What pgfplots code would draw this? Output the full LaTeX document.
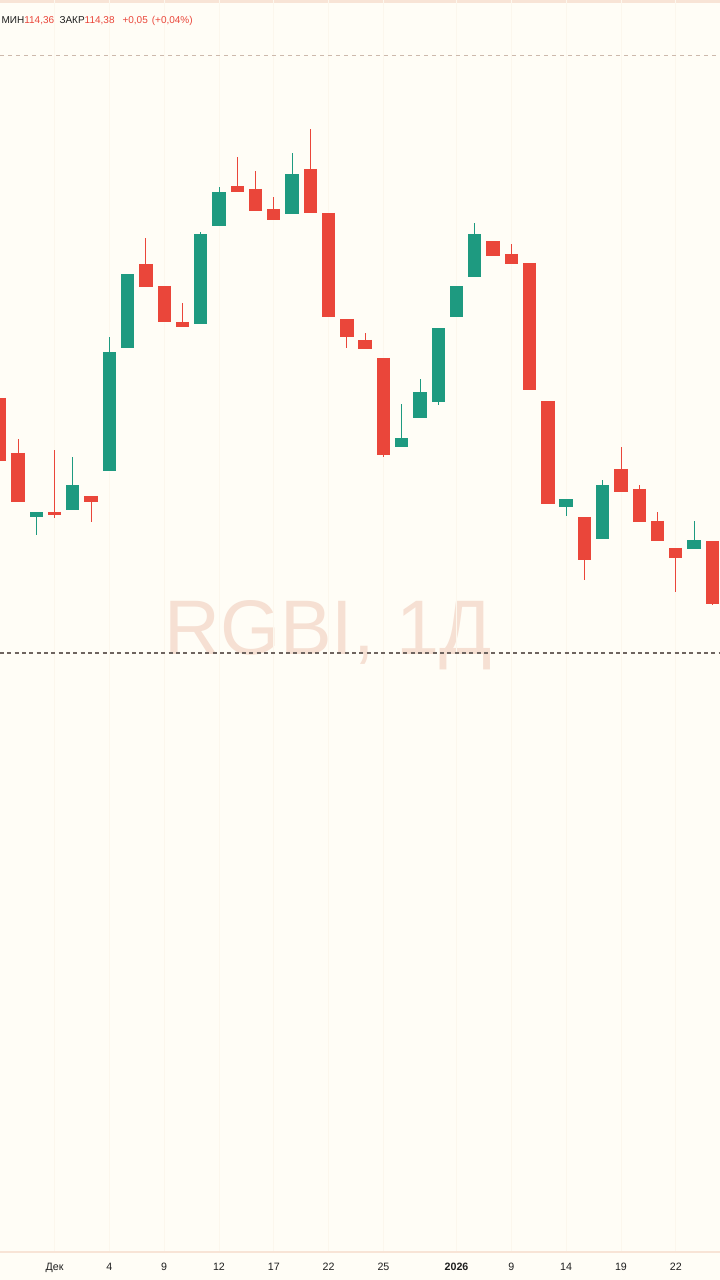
\documentclass[border=0pt]{standalone}
\usepackage{pgfplots}
\usepackage{pgfplotstable}
\pgfplotsset{compat=1.18}
\usepackage{fontspec}
\setmainfont{Liberation Sans}

\definecolor{bg}{RGB}{255,253,246}
\definecolor{up}{RGB}{30,154,128}
\definecolor{dn}{RGB}{234,70,58}
\definecolor{gridc}{RGB}{252,247,237}
\definecolor{sep}{RGB}{248,228,214}
\definecolor{wm}{RGB}{246,224,211}
\definecolor{txt}{RGB}{30,30,30}
\definecolor{dashA}{RGB}{205,185,172}
\definecolor{dashB}{RGB}{110,100,95}

% candle index, open, high, low, close
\pgfplotstableread{
x  o      h      l      c
3  116.12 116.22 115.76 116.22
5  116.26 117.32 116.26 116.76
7  117.04 119.72 117.04 119.42
8  119.50 120.98 119.50 120.98
12 119.98 121.82 119.98 121.78
13 121.94 122.72 121.94 122.62
17 122.18 123.40 122.18 122.98
23 117.52 118.38 117.52 117.70
24 118.10 118.88 118.10 118.62
25 118.42 119.90 118.36 119.90
26 120.12 120.74 120.12 120.74
27 120.92 122.00 120.92 121.78
32 116.32 116.48 116.14 116.48
34 115.68 116.86 115.68 116.76
39 115.48 116.04 115.48 115.66
}\upcandles

\pgfplotstableread{
x  o      h      l      c
1  118.50 118.56 117.20 117.24
2  117.40 117.68 116.42 116.42
4  116.22 117.46 116.10 116.16
6  116.54 116.54 116.02 116.42
9  121.18 121.70 120.72 120.72
10 120.74 120.74 120.02 120.02
11 120.02 120.40 119.92 119.92
14 122.74 123.32 122.62 122.62
15 122.68 123.04 122.24 122.24
16 122.28 122.52 122.06 122.06
18 123.08 123.88 122.20 122.20
19 122.20 122.20 120.12 120.12
20 120.08 120.08 119.50 119.72
21 119.66 119.80 119.48 119.48
22 119.30 119.30 117.32 117.36
28 121.64 121.64 121.34 121.34
29 121.38 121.58 121.18 121.18
30 121.20 121.20 118.66 118.66
31 118.44 118.44 116.38 116.38
33 116.12 116.12 114.86 115.26
35 117.08 117.52 116.62 116.62
36 116.68 116.76 116.02 116.02
37 116.04 116.22 115.64 115.64
38 115.50 115.50 114.62 115.30
40 115.64 115.64 114.36 114.38
}\dncandles

\begin{document}
\begin{tikzpicture}
\useasboundingbox (0,0) rectangle (540pt,960pt);
\fill[bg] (0,0) rectangle (540pt,960pt);
\fill[sep] (0,958pt) rectangle (540pt,960pt);
% watermark
\node[anchor=base west, inner sep=0pt, text=wm, font=\fontsize{58}{60}\selectfont]
  at (123pt,468.75pt) {RGBI, 1Д};
\begin{axis}[
  at={(0pt,21pt)}, anchor=south west,
  scale only axis, width=540pt, height=939pt,
  xmin=1.015, xmax=40.42, ymin=101.42, ymax=126.46,
  axis x line=bottom, axis y line=none,
  x axis line style={sep, line width=0.9pt, -},
  xtick={4,7,10,13,16,19,22,26,29,32,35,38},
  xticklabels={Дек,4,9,12,17,22,25,\textbf{2026},9,14,19,22},
  major tick length=0pt,
  xticklabel style={font=\fontsize{8}{9.5}\selectfont, text=txt, yshift=-5pt},
  ytick={102.5,104,...,125}, yticklabels={},
  xmajorgrids, ymajorgrids,
  grid style={gridc, line width=0.6pt},
  clip=true,
]
% price lines
\addplot[dashA, line width=0.7pt, dash pattern=on 3pt off 3pt, mark=none]
  coordinates {(1.015,125.36) (40.42,125.36)};
\addplot[dashB, line width=0.8pt, dash pattern=on 3pt off 2.5pt, mark=none]
  coordinates {(1.015,113.40) (40.42,113.40)};
% wicks
\addplot[up, line width=0.7pt, mark=none, quiver={u=0, v=\thisrow{h}-\thisrow{l}}]
  table[x=x, y=l] {\upcandles};
\addplot[dn, line width=0.7pt, mark=none, quiver={u=0, v=\thisrow{h}-\thisrow{l}}]
  table[x=x, y=l] {\dncandles};
% bodies
\addplot[up, line width=10pt, mark=none, quiver={u=0, v=\thisrow{c}-\thisrow{o}}]
  table[x=x, y=o] {\upcandles};
\addplot[dn, line width=10pt, mark=none, quiver={u=0, v=\thisrow{c}-\thisrow{o}}]
  table[x=x, y=o] {\dncandles};
\end{axis}
% header (values of the hovered bar)
\node[anchor=base west, inner sep=0pt, font=\fontsize{7.5}{9}\selectfont]
  at (1pt,942.5pt)
  {\textcolor{txt}{МИН}\textcolor{dn}{114,36}\hspace{4pt}\textcolor{txt}{ЗАКР}\textcolor{dn}{114,38\hspace{6pt}+0,05\hspace{3pt}(+0,04\%)}};
\end{tikzpicture}
\end{document}
